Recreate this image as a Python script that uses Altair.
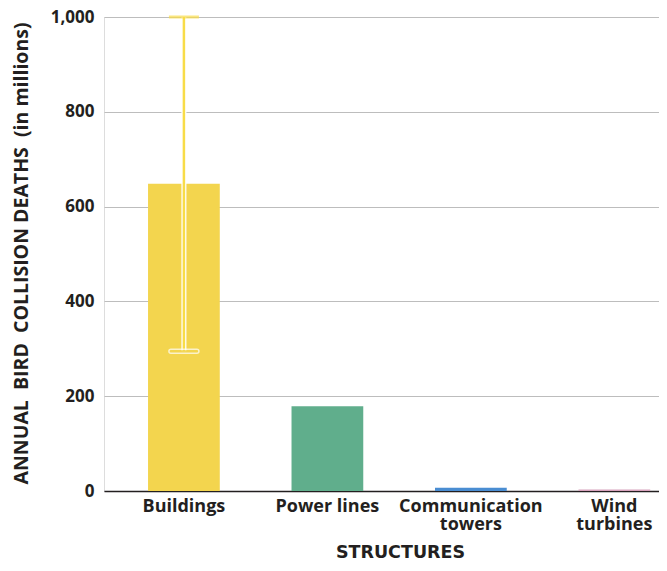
import altair as alt
import pandas as pd

categories = ["Buildings", "Power lines", "Communication towers", "Wind turbines"]
values = [648, 179, 6.8, 3]
err_low = [295, None, None, None]
err_high = [1000, None, None, None]
colors = ["#f3d54e", "#60ae8c", "#4a8dd2", "#d8a3bd"]

df = pd.DataFrame({"category": categories, "value": values, "lo": err_low, "hi": err_high, "color": colors})
err = df.dropna(subset=["lo"])

FONT = "Open Sans"
INK = "#231f20"
NB = "\u00a0"
x_enc = alt.X(
    "category:N",
    sort=categories,
    scale=alt.Scale(paddingInner=0.5, paddingOuter=0.184, align=0.834),
    axis=alt.Axis(
        title="STRUCTURES",
        labelExpr="datum.value == 'Communication towers' ? ['Communication', 'towers'] : datum.value == 'Wind turbines' ? ['Wind', 'turbines'] : datum.value",
        labelAngle=0,
        labelFont=FONT, labelFontWeight="bold", labelFontSize=18, labelColor=INK,
        labelPadding=6, labelLineHeight=18,
        ticks=False, domainColor=INK, domainWidth=1.5,
        titleFont="DejaVu Sans", titleFontWeight="bold", titleFontSize=17.5, titleColor=INK,
        titleX=296, titleY=61, titleBaseline="middle",
        grid=False,
    ),
)

y_scale = alt.Scale(domain=[0, 1000], nice=False)
bars = alt.Chart(df).mark_bar().encode(
    x=x_enc,
    y=alt.Y(
        "value:Q",
        scale=y_scale,
        axis=alt.Axis(
            title=f"ANNUAL {NB}BIRD {NB}COLLISION DEATHS {NB}(in millions)",
            values=[0, 200, 400, 600, 800, 1000], format=",d",
            labelFont=FONT, labelFontWeight="bold", labelFontSize=17, labelColor=INK,
            labelPadding=10, ticks=False, domain=False,
            gridColor="#bdbdbd", gridWidth=1,
            titleFont=FONT, titleFontWeight="bold", titleFontSize=19.5, titleColor=INK,
            titleAngle=-90, titleX=-83, titleY=236, titleAlign="center", titleBaseline="middle",
        ),
    ),
    color=alt.Color("color:N", scale=None),
)

rule_white = alt.Chart(err).mark_rule(color="white", strokeWidth=5).encode(
    x=alt.X("category:N", sort=categories), y=alt.Y("lo:Q", scale=y_scale), y2="hi:Q"
)
rule_yel = alt.Chart(err).mark_rule(color="#f8dc48", strokeWidth=2.5).encode(
    x=alt.X("category:N", sort=categories), y=alt.Y("lo:Q", scale=y_scale), y2="hi:Q"
)
cap_lo = alt.Chart(err).mark_tick(color="#f3d54e", stroke="white", strokeWidth=1.5, thickness=4, size=30, orient="horizontal", cornerRadius=2).encode(
    x=alt.X("category:N", sort=categories), y=alt.Y("lo:Q", scale=y_scale)
)
cap_hi = alt.Chart(err).mark_tick(color="#f8dc48", thickness=3, size=30, orient="horizontal").encode(
    x=alt.X("category:N", sort=categories), y=alt.Y("hi:Q", scale=y_scale)
)

chart = (bars + rule_white + rule_yel + cap_lo + cap_hi).properties(
    width=555, height=474,
    autosize=alt.AutoSizeParams(type="none"),
    padding={"left": 96, "top": 9, "right": 0, "bottom": 70},
).configure_view(stroke=None).configure(background="white")

chart.save("out.html", embed_options={"renderer": "svg", "actions": False})
